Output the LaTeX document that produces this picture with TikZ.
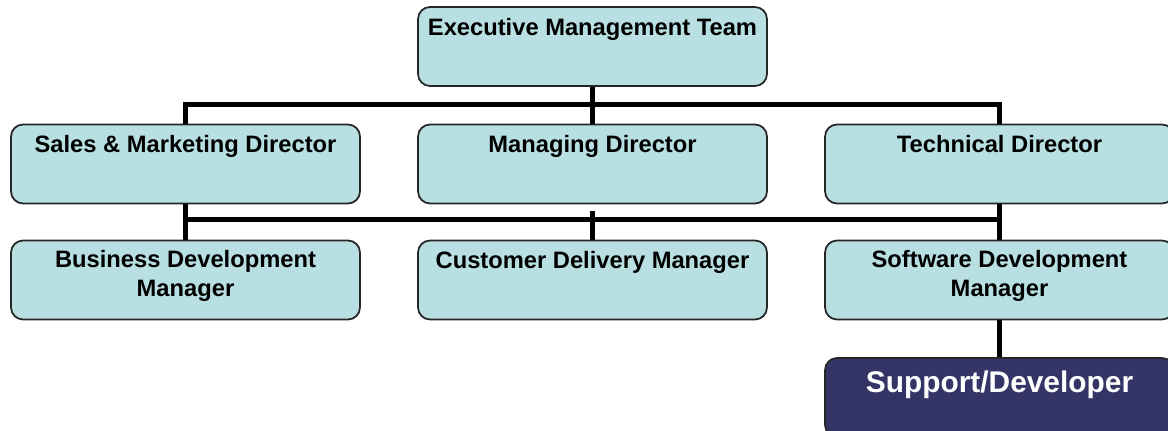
\documentclass[tikz,border=0pt]{standalone}
\usepackage{fontspec}
\setmainfont{Liberation Sans}
\usepackage{tikz}
\usetikzlibrary{positioning}
\definecolor{unitfill}{RGB}{184,223,226}
\definecolor{devfill}{RGB}{53,52,102}
\tikzset{
	unit/.style={draw=black!85, line width=1pt, fill=unitfill, rounded corners=0.24cm,
		minimum width=6.98cm, minimum height=1.58cm, inner sep=0pt},
	devunit/.style={unit, fill=devfill},
	title/.style={inner sep=0pt, align=center, font=\fontsize{13.5}{16.5}\selectfont\bfseries},
	devtitle/.style={inner sep=0pt, text=white, font=\fontsize{17}{20}\selectfont\bfseries},
	bus/.style={line width=0.1cm},
}
\begin{document}
\begin{tikzpicture}[x=0.02cm, y=-0.02cm]
		\useasboundingbox (0,0) rectangle (1168,431);
		\clip (0,0) rectangle (1168,431);
		\coordinate (busA) at (0,105);
		\coordinate (busB) at (0,220);
		\coordinate (stub) at (0,211);
		% boxes
		\node[unit] (emt) at (592.5,46.5) {};
		\node[unit] (smd) at (185.5,164) {};
		\node[unit] (md) at (592.5,164) {};
		\node[unit] (td) at (999.5,164) {};
		\node[unit] (bdm) at (185.5,280) {};
		\node[unit] (cdm) at (592.5,280) {};
		\node[unit] (sdm) at (999.5,280) {};
		\node[devunit] (dev) at (999.5,397.5) {};
		% titles
		\node[title, below=0.23cm of emt.north] (emt-t) {Executive Management Team};
		\node[title, below=0.23cm of smd.north] (smd-t) {Sales \& Marketing Director};
		\node[title, below=0.23cm of md.north] (md-t) {Managing Director};
		\node[title, below=0.23cm of td.north] (td-t) {Technical Director};
		\node[title, below=0.21cm of bdm.north] (bdm-t) {Business Development\\Manager};
		\node[title, below=0.23cm of cdm.north] (cdm-t) {Customer Delivery Manager};
		\node[title, below=0.21cm of sdm.north] (sdm-t) {Software Development\\Manager};
		\node[devtitle, below=0.26cm of dev.north] (dev-t) {Support/Developer};
		% lines
		\draw[bus] (emt.south) -- (md.north);
		\draw[bus] (smd.north) -- (smd.north |- busA) -- (td.north |- busA) -- (td.north);
		\draw[bus] (smd.south) -- (bdm.north);
		\draw[bus] (td.south) -- (sdm.north);
		\draw[bus] (smd.south |- busB) -- (td.south |- busB);
		\draw[bus] (cdm.north) -- (cdm.north |- stub);
		\draw[bus] (sdm.south) -- (dev.north);
\end{tikzpicture}
\end{document}
